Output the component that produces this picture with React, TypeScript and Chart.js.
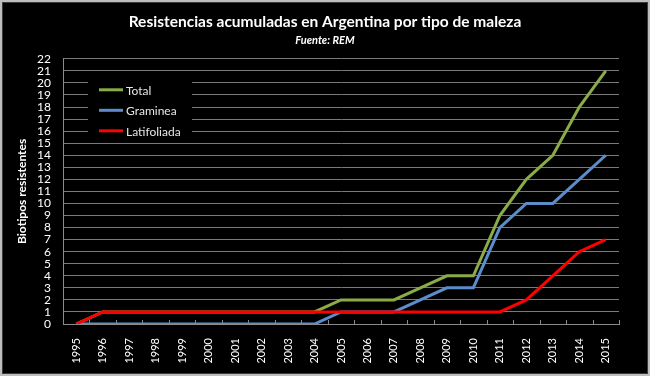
import React, { useEffect, useRef } from "react";
import { Chart, registerables } from "chart.js";

Chart.register(...registerables);

const years = ["1995","1996","1997","1998","1999","2000","2001","2002","2003","2004","2005","2006","2007","2008","2009","2010","2011","2012","2013","2014","2015"];
const total = [0,1,1,1,1,1,1,1,1,1,2,2,2,3,4,4,9,12,14,18,21];
const graminea = [0,0,0,0,0,0,0,0,0,0,1,1,1,2,3,3,8,10,10,12,14];
const latifoliada = [0,1,1,1,1,1,1,1,1,1,1,1,1,1,1,1,1,2,4,6,7];
const seriesNames = ["Total", "Graminea", "Latifoliada"];
const seriesColors = ["#8AAB48", "#5B8DCB", "#FF0000"];

const FONT = "Lato, 'Open Sans', sans-serif";

const legendPlugin = {
  id: "insideLegend",
  beforeDatasetsDraw(chart: any) {
    const ctx = chart.ctx;
    const xs = chart.scales.x;
    const n = years.length;
    const w = (xs.right - xs.left) / n;
    ctx.save();
    ctx.strokeStyle = "#8A8A8A";
    ctx.lineWidth = 1;
    ctx.beginPath();
    for (let i = 1; i <= n; i++) {
      const x = Math.round(xs.left + i * w) + 0.5;
      ctx.moveTo(x, xs.top);
      ctx.lineTo(x, xs.top - 4);
    }
    ctx.stroke();
    ctx.restore();
  },
  afterDatasetsDraw(chart: any) {
    const ctx = chart.ctx;
    const area = chart.chartArea;
    ctx.save();
    const bx = area.left + 25;
    const by = area.top + 17;
    ctx.fillStyle = "#000";
    ctx.fillRect(bx, by, 104, 64);
    ctx.font = "12px " + FONT;
    ctx.textBaseline = "middle";
    ctx.textAlign = "left";
    seriesNames.forEach((name, i) => {
      const y = by + 14 + i * 20.5;
      ctx.strokeStyle = seriesColors[i];
      ctx.lineWidth = 3;
      ctx.beginPath();
      ctx.moveTo(bx + 11, y);
      ctx.lineTo(bx + 35, y);
      ctx.stroke();
      ctx.fillStyle = "#E6E6E6";
      ctx.fillText(name, bx + 38, y + 1);
    });
    ctx.restore();
  },
};

export default function App() {
  const ref = useRef<HTMLCanvasElement>(null);
  useEffect(() => {
    document.body.style.margin = "0";
    const chart = new Chart(ref.current!, {
      type: "line",
      data: {
        labels: years,
        datasets: [
          { label: seriesNames[0], data: total, borderColor: seriesColors[0], order: 2 },
          { label: seriesNames[1], data: graminea, borderColor: seriesColors[1], order: 1 },
          { label: seriesNames[2], data: latifoliada, borderColor: seriesColors[2], order: 0 },
        ].map((d) => ({ ...d, borderWidth: 3, pointRadius: 0, tension: 0, fill: false })),
      },
      options: {
        animation: false,
        responsive: false,
        maintainAspectRatio: false,
        layout: { padding: { left: 0, right: 0, top: 0, bottom: 0 } },
        plugins: {
          legend: { display: false },
          tooltip: { enabled: false },
          title: {
            display: true,
            text: "Resistencias acumuladas en Argentina por tipo de maleza",
            color: "#FFFFFF",
            font: { family: FONT, size: 15.5, weight: "bold" },
            padding: { top: 13, bottom: 2 },
          },
          subtitle: {
            display: true,
            text: "Fuente: REM",
            color: "#FFFFFF",
            font: { family: FONT, size: 11, weight: "bold", style: "italic" },
            padding: { top: 0, bottom: 12 },
          },
        },
        scales: {
          x: {
            type: "category",
            offset: true,
            afterFit: (s: any) => { s.height = 52; },
            grid: { offset: true, drawOnChartArea: false, drawTicks: false, color: "#8A8A8A" },
            border: { display: true, color: "#8A8A8A", width: 1 },
            ticks: { color: "#FFFFFF", minRotation: 90, maxRotation: 90, autoSkip: false, padding: 14, font: { family: FONT, size: 11 } },
          },
          y: {
            min: 0,
            max: 22,
            afterFit: (s: any) => { s.width = 63; },
            grid: { color: "#7A7A7A", drawTicks: false, lineWidth: 1 },
            border: { display: true, color: "#8A8A8A" },
            ticks: { stepSize: 1, autoSkip: false, color: "#FFFFFF", padding: 12, font: { family: FONT, size: 12 } },
            title: {
              display: true,
              text: "Biotipos resistentes",
              color: "#FFFFFF",
              font: { family: FONT, size: 12, weight: "bold" },
              padding: { top: 15, bottom: 0 },
            },
          },
          yRight: {
            type: "linear",
            position: "right",
            display: true,
            afterFit: (s: any) => { s.width = 31; },
            grid: { display: false, drawTicks: false },
            border: { display: false },
            ticks: { display: false },
          },
        },
      },
      plugins: [legendPlugin],
    } as any);
    return () => chart.destroy();
  }, []);
  return (
    <div style={{ position: "fixed", left: 0, top: 0, width: 650, height: 376, background: "#000", boxSizing: "border-box", border: "2px solid #BDBDBD" }}>
      <div style={{ position: "absolute", left: 0, top: 0, right: 0, bottom: 0, border: "1px solid #3a3a3a" }} />
      <canvas ref={ref} width={650} height={376} style={{ position: "absolute", left: -2, top: -2, width: 650, height: 376 }} />
    </div>
  );
}
